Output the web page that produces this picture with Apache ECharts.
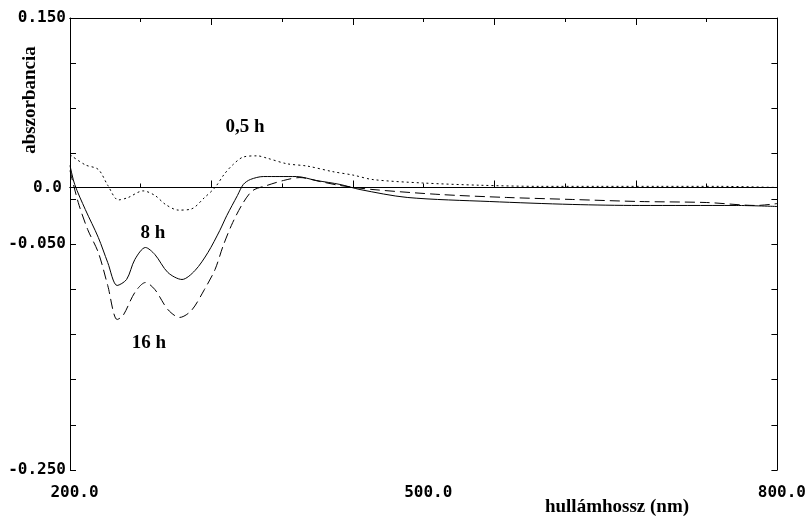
<!DOCTYPE html>
<html>
<head>
<meta charset="utf-8">
<script src="https://cdn.jsdelivr.net/npm/echarts@6/dist/echarts.min.js"></script>
<style>html,body{margin:0;padding:0;background:#fff}#c{width:809px;height:519px}</style>
</head>
<body>
<div id="c"></div>
<script>
// 0,5 h (dotted)
var nm05 = [200,213,224,232,241,249,262,272,281,292,303,314,323,331,338,347,359,367,384,401,423,440,457,499,548,598,649,700,751,800];
var abs05 = [0.029,0.020,0.016,0.002,-0.011,-0.009,-0.003,-0.007,-0.015,-0.020,-0.019,-0.009,0.000,0.012,0.020,0.027,0.028,0.026,0.021,0.019,0.014,0.011,0.007,0.004,0.002,0.001,0.001,0.001,0.001,0.000];
// 8 h (solid)
var nm8 = [200,204,213,224,232,240,248,255,264,272,283,295,306,317,327,333,342,347,353,364,378,392,409,429,446,486,556,626,683,765,800];
var abs8 = [0.0195,0.0027,-0.0195,-0.0442,-0.0664,-0.0867,-0.0814,-0.0637,-0.0531,-0.0593,-0.0752,-0.0814,-0.0735,-0.0575,-0.0381,-0.0248,-0.0071,0.0027,0.0071,0.0097,0.0097,0.0097,0.0062,0.0027,-0.0018,-0.0088,-0.0124,-0.0150,-0.0159,-0.0159,-0.0168];
// 16 h (dashed)
var nm16 = [200,207,215,224,232,240,245,255,264,272,283,293,303,314,323,330,338,347,355,367,381,395,412,429,457,514,570,626,683,740,782,800];
var abs16 = [0.0150,-0.0133,-0.0372,-0.0575,-0.0867,-0.1168,-0.1133,-0.0929,-0.0841,-0.0903,-0.1080,-0.1150,-0.1088,-0.0903,-0.0726,-0.0513,-0.0310,-0.0133,-0.0027,0.0018,0.0062,0.0088,0.0053,0.0018,-0.0018,-0.0062,-0.0088,-0.0106,-0.0124,-0.0133,-0.0159,-0.0142];

var yLabelValues = [0.15, -0.05, -0.25];
var yLabelTexts = ['0.150', '-0.050', '-0.250'];
var xLabelValues = [200, 500, 800];
var xLabelTexts = ['200.0', '500.0', '800.0'];

function zip(a, b) { return a.map(function (v, i) { return [v, b[i]]; }); }

var monoFont = { fontFamily: '"DejaVu Sans Mono", monospace', fontWeight: 'bold', fontSize: 16, color: '#000' };

function xAx(pos, interval, len, labels) {
  return {
    type: 'value', position: pos, min: 200, max: 800, interval: interval,
    axisLine: { show: true, lineStyle: { color: '#000', width: 1 } },
    axisTick: { show: true, inside: true, length: len, lineStyle: { color: '#000' } },
    splitLine: { show: false },
    axisLabel: labels ? Object.assign({
      show: true, margin: 15, padding: [0, 0, 0, 9],
      formatter: function (v) {
        for (var i = 0; i < xLabelValues.length; i++) if (Math.abs(v - xLabelValues[i]) < 1e-6) return xLabelTexts[i];
        return '';
      }
    }, monoFont) : { show: false }
  };
}
function yAx(pos, labels) {
  return {
    type: 'value', position: pos, min: -0.25, max: 0.15, interval: 0.04,
    axisLine: { show: true, onZero: false, lineStyle: { color: '#000', width: 1 } },
    axisTick: { show: true, inside: true, length: 6, lineStyle: { color: '#000' } },
    splitLine: { show: false },
    axisLabel: labels ? Object.assign({
      show: true, margin: 4,
      formatter: function (v) {
        for (var i = 0; i < yLabelValues.length; i++) if (Math.abs(v - yLabelValues[i]) < 1e-6) return yLabelTexts[i];
        return '';
      }
    }, monoFont) : { show: false }
  };
}

var chart = echarts.init(document.getElementById('c'), null, { renderer: 'canvas' });
chart.setOption({
  animation: false,
  backgroundColor: '#fff',
  grid: { left: 70, right: 31, top: 18, bottom: 49 },
  xAxis: [xAx('bottom', 60, 4, true), xAx('bottom', 120, 7, false), xAx('top', 60, 4, false), xAx('top', 120, 7, false)],
  yAxis: [yAx('left', true), yAx('right', false)],
  series: [
    {
      name: '0,5 h', type: 'line', data: zip(nm05, abs05), smooth: 0.3, symbol: 'none',
      lineStyle: { color: '#000', width: 1, type: [2, 3] },
      markLine: {
        silent: true, symbol: 'none',
        lineStyle: { color: '#000', width: 1, type: 'solid' },
        label: Object.assign({ show: true, position: 'start', distance: 8, formatter: '0.0' }, monoFont),
        data: [{ yAxis: 0 }]
      }
    },
    {
      name: '8 h', type: 'line', data: zip(nm8, abs8), smooth: 0.3, symbol: 'none',
      lineStyle: { color: '#000', width: 1, type: 'solid' }
    },
    {
      name: '16 h', type: 'line', data: zip(nm16, abs16), smooth: 0.3, symbol: 'none',
      lineStyle: { color: '#000', width: 1, type: [10, 5] }
    }
  ],
  graphic: [
    { type: 'text', x: 30, y: 100, rotation: Math.PI / 2, style: { text: 'abszorbancia', font: 'bold 19px "Liberation Serif"', fill: '#000', textAlign: 'center', textVerticalAlign: 'middle' } },
    { type: 'text', x: 617, y: 507, style: { text: 'hullámhossz (nm)', font: 'bold 19px "Liberation Serif"', fill: '#000', textAlign: 'center', textVerticalAlign: 'middle' } },
    { type: 'text', x: 245, y: 127, style: { text: '0,5 h', font: 'bold 19px "Liberation Serif"', fill: '#000', textAlign: 'center', textVerticalAlign: 'middle' } },
    { type: 'text', x: 153, y: 233, style: { text: '8 h', font: 'bold 19px "Liberation Serif"', fill: '#000', textAlign: 'center', textVerticalAlign: 'middle' } },
    { type: 'text', x: 149, y: 343, style: { text: '16 h', font: 'bold 19px "Liberation Serif"', fill: '#000', textAlign: 'center', textVerticalAlign: 'middle' } }
  ]
});
</script>
</body>
</html>
